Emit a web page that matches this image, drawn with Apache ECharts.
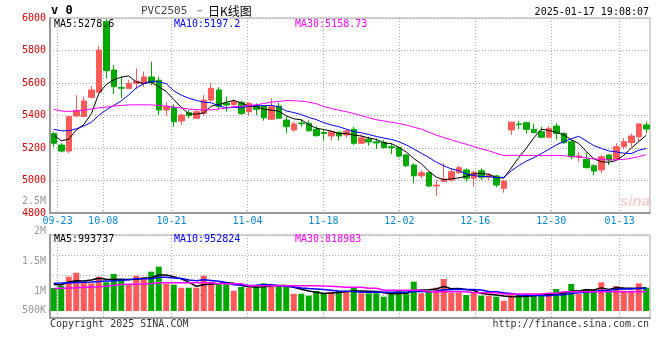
<!DOCTYPE html>
<html><head><meta charset="utf-8">
<script src="https://cdn.jsdelivr.net/npm/echarts@6/dist/echarts.min.js"></script>
<style>html,body{margin:0;padding:0;background:#fff}#c{width:660px;height:360px}</style>
</head><body><div id="c"></div>
<script>
// ---------- data ----------
const dates = ['09-20','09-23','09-24','09-25','09-26','09-27','09-30','10-08','10-09','10-10','10-11','10-14','10-15','10-16','10-17','10-18','10-21','10-22','10-23','10-24','10-25','10-28','10-29','10-30','10-31','11-01','11-04','11-05','11-06','11-07','11-08','11-11','11-12','11-13','11-14','11-15','11-18','11-19','11-20','11-21','11-22','11-25','11-26','11-27','11-28','11-29','12-02','12-03','12-04','12-05','12-06','12-09','12-10','12-11','12-12','12-13','12-16','12-17','12-18','12-19','12-20','12-23','12-24','12-25','12-26','12-27','12-30','12-31','01-02','01-03','01-06','01-07','01-08','01-09','01-10','01-13','01-14','01-15','01-16','01-17'];
const opens  = [5290,5218,5181,5397,5394,5512,5543,5977,5680,5572,5567,5598,5598,5637,5617,5434,5448,5366,5417,5383,5413,5495,5557,5475,5468,5481,5423,5458,5458,5377,5458,5372,5311,5354,5352,5315,5295,5274,5297,5280,5315,5229,5255,5238,5235,5208,5202,5157,5095,5029,5048,4966,4993,5003,5050,5065,5014,5060,5020,5028,4952,5311,5348,5356,5315,5300,5266,5335,5290,5239,5143,5131,5091,5065,5157,5132,5208,5233,5269,5342];
const closes = [5229,5181,5393,5430,5489,5557,5803,5676,5577,5568,5598,5612,5637,5604,5434,5454,5362,5403,5399,5423,5495,5567,5454,5465,5485,5413,5475,5438,5386,5454,5383,5331,5348,5350,5306,5276,5290,5300,5274,5305,5229,5263,5237,5231,5202,5202,5151,5091,5029,5048,4966,4972,5009,5054,5079,5014,5050,5020,5034,4972,4997,5360,5344,5315,5294,5266,5321,5290,5233,5146,5151,5079,5058,5146,5126,5208,5239,5274,5348,5317];
const lows   = [5208,5173,5167,5391,5390,5506,5543,5629,5532,5506,5563,5563,5577,5588,5403,5400,5331,5342,5383,5380,5400,5485,5438,5423,5454,5403,5399,5403,5368,5372,5380,5290,5300,5331,5300,5270,5245,5245,5245,5263,5218,5225,5215,5194,5199,5163,5140,5083,4983,5013,4958,4905,4993,4993,5040,4993,4962,5003,5003,4958,4925,5280,5315,5290,5294,5266,5260,5253,5225,5130,5115,5075,5034,5044,5095,5126,5192,5208,5239,5290];
const highs  = [5296,5229,5397,5526,5516,5581,5828,5995,5711,5639,5618,5690,5670,5731,5639,5483,5469,5413,5434,5440,5526,5598,5574,5516,5500,5490,5481,5475,5465,5506,5480,5393,5362,5377,5370,5335,5315,5311,5300,5315,5331,5286,5270,5260,5250,5229,5208,5163,5106,5065,5054,5003,5106,5075,5091,5075,5060,5075,5045,5034,5003,5360,5366,5362,5348,5331,5335,5352,5297,5249,5177,5171,5100,5157,5161,5229,5260,5290,5352,5362];
const ma5  = [5280,5245,5254,5311,5344,5410,5534,5591,5620,5636,5644,5606,5598,5604,5577,5548,5498,5451,5410,5408,5416,5457,5468,5481,5493,5477,5458,5455,5439,5433,5427,5398,5380,5373,5344,5322,5314,5304,5289,5289,5280,5274,5262,5253,5232,5227,5205,5175,5135,5104,5057,5021,5005,5010,5016,5026,5041,5043,5039,5018,5015,5077,5141,5198,5262,5316,5308,5297,5281,5251,5228,5180,5133,5116,5112,5123,5155,5199,5239,5279];
const ma10 = [5315,5306,5306,5318,5335,5358,5400,5435,5462,5490,5527,5570,5595,5612,5607,5596,5552,5525,5507,5493,5482,5478,5460,5446,5451,5447,5458,5461,5460,5463,5452,5428,5418,5406,5388,5375,5356,5342,5331,5316,5301,5294,5283,5271,5261,5253,5239,5219,5194,5168,5142,5113,5090,5072,5060,5041,5031,5024,5025,5017,5020,5059,5092,5119,5140,5165,5192,5219,5239,5257,5272,5244,5215,5198,5182,5176,5168,5166,5186,5197];
const ma30 = [5438,5428,5425,5428,5433,5440,5447,5452,5458,5462,5465,5466,5466,5465,5462,5458,5452,5446,5440,5436,5434,5435,5440,5447,5454,5457,5461,5466,5474,5482,5487,5492,5491,5488,5482,5473,5455,5443,5433,5424,5412,5400,5387,5374,5367,5358,5351,5341,5328,5316,5298,5279,5264,5250,5236,5223,5209,5195,5183,5167,5154,5155,5155,5154,5154,5153,5154,5154,5153,5147,5145,5139,5133,5130,5127,5127,5130,5137,5147,5159];
const volumes = [1050000,1083000,1238000,1305000,1155000,1128000,1238000,1145000,1283000,1183000,1117000,1255000,1233000,1322000,1405000,1122000,1105000,1055000,1055000,1055000,1255000,1155000,1112000,1112000,1005000,1067000,1055000,1100000,1128000,1067000,1100000,1067000,955000,955000,922000,1000000,962000,988000,1000000,1000000,1062000,962000,962000,962000,905000,972000,1000000,988000,1155000,962000,1005000,1055000,1200000,972000,972000,933000,988000,922000,922000,905000,838000,945000,933000,950000,933000,933000,933000,1033000,972000,1117000,950000,1033000,1017000,1145000,988000,1083000,1005000,1005000,1128000,1055000];
const volMa5  = [1110000,1100000,1150000,1170000,1166000,1182000,1213000,1194000,1190000,1195000,1193000,1197000,1214000,1222000,1266000,1267000,1237000,1202000,1148000,1078000,1105000,1115000,1126000,1138000,1128000,1090000,1070000,1068000,1071000,1083000,1090000,1092000,1063000,1029000,1000000,980000,959000,965000,974000,990000,1002000,1002000,997000,990000,971000,953000,960000,965000,1004000,1015000,1022000,1033000,1075000,1039000,1041000,1026000,1013000,957000,947000,934000,915000,906000,909000,914000,920000,939000,936000,956000,961000,998000,1001000,1021000,1018000,1052000,1027000,1053000,1048000,1045000,1042000,1055000];
const volMa10 = [1130000,1132000,1135000,1140000,1145000,1150000,1158000,1165000,1172000,1181000,1188000,1205000,1204000,1206000,1231000,1230000,1217000,1208000,1185000,1172000,1186000,1176000,1164000,1143000,1103000,1098000,1093000,1097000,1104000,1106000,1090000,1081000,1066000,1050000,1042000,1035000,1026000,1014000,1002000,995000,991000,981000,981000,982000,980000,978000,981000,981000,997000,993000,987000,997000,1020000,1021000,1028000,1024000,1023000,1016000,993000,987000,971000,960000,933000,931000,927000,927000,921000,933000,938000,959000,970000,979000,987000,1007000,1012000,1027000,1034000,1032000,1047000,1041000];
const volMa30 = [1040000,1045000,1050000,1055000,1062000,1068000,1072000,1080000,1095000,1110000,1112000,1112000,1115000,1125000,1138000,1138000,1138000,1138000,1138000,1138000,1138000,1138000,1122000,1122000,1122000,1122000,1088000,1088000,1088000,1088000,1088000,1088000,1088000,1088000,1088000,1088000,1083000,1080000,1072000,1062000,1062000,1062000,1045000,1045000,1012000,1012000,1012000,1012000,1012000,1012000,988000,988000,988000,988000,988000,988000,972000,972000,972000,972000,950000,950000,950000,950000,950000,950000,962000,962000,988000,988000,988000,988000,988000,988000,988000,988000,988000,988000,988000,988000];
const xTickDates = ['09-23','10-08','10-21','11-04','11-18','12-02','12-16','12-30','01-13'];
const volTickLabels = {2500000:'2.5M', 2000000:'2M', 1500000:'1.5M', 1000000:'1M', 500000:'500K'};
const maLegend = ['MA5:5278.6','MA10:5197.2','MA30:5158.73'];
const volMaLegend = ['MA5:993737','MA10:952824','MA30:818983'];
const titleCode = 'PVC2505 －';
const titleName = '日K线图';
const timeStamp = '2025-01-17 19:08:07';

// ---------- styles ----------
const UP = '#ff5a5a', DOWN = '#00a800';
const MONO = '"DejaVu Sans Mono", monospace';
const GRIDC = '#aaaaaa', AXISC = '#999999';
const dotted = {color: GRIDC, type: [1, 2], width: 1};
const tickSet = new Set(xTickDates);
const isTick = (i, v) => tickSet.has(v);

const candleData = dates.map((d, i) => [opens[i], closes[i], lows[i], highs[i]]);
const volData = volumes.map((v, i) => ({value: v, itemStyle: {color: closes[i] >= opens[i] ? UP : DOWN}}));

function txt(x, y, text, extra) {
  return {type: 'text', x: x, y: y, silent: true, z: 100,
    style: Object.assign({text: text, font: '10px ' + MONO, fill: '#000',
      textAlign: 'left', textVerticalAlign: 'middle', align: 'left', verticalAlign: 'middle'}, extra || {})};
}
function line(name, data, color, xi, yi, w) {
  return {type: 'line', name: name, data: data, xAxisIndex: xi, yAxisIndex: yi, symbol: 'none',
    lineStyle: {color: color, width: w}, itemStyle: {color: color}, z: 5, silent: true};
}

const chart = echarts.init(document.getElementById('c'), null, {renderer: 'canvas'});
chart.setOption({
  animation: false,
  backgroundColor: '#fff',
  grid: [
    {left: 50, right: 10, top: 18, height: 195, show: true, borderColor: GRIDC, borderWidth: 1},
    {left: 50, right: 10, top: 235, height: 76},
    {left: 50, right: 10, top: 235, height: 83, show: true, borderColor: GRIDC, borderWidth: 1},
    {left: 50, right: 10, top: 235, height: 60},
    {left: 50, right: 10, top: 201, height: 120}
  ],
  xAxis: [
    {type: 'category', gridIndex: 0, data: dates, boundaryGap: true, show: false},
    {type: 'category', gridIndex: 0, data: dates, boundaryGap: false, position: 'bottom',
      axisLine: {show: true, lineStyle: {color: AXISC, width: 2}}, axisTick: {show: false},
      axisLabel: {interval: isTick, color: '#0a88d8', fontSize: 10, fontFamily: MONO, margin: 3},
      splitLine: {show: true, interval: isTick, lineStyle: dotted}},
    {type: 'category', gridIndex: 1, data: dates, boundaryGap: true, show: false},
    {type: 'category', gridIndex: 2, data: dates, boundaryGap: false, position: 'bottom',
      axisLine: {show: true, lineStyle: {color: AXISC, width: 2}}, axisTick: {show: false},
      axisLabel: {show: false}, splitLine: {show: true, interval: isTick, lineStyle: dotted}},
    {type: 'category', gridIndex: 3, data: dates, show: false},
    {type: 'category', gridIndex: 4, data: dates, show: false}
  ],
  yAxis: [
    {type: 'value', gridIndex: 0, min: 4800, max: 6000, interval: 200,
      axisLine: {show: true, lineStyle: {color: AXISC, width: 2}}, axisTick: {show: false},
      axisLabel: {color: '#e00000', fontSize: 10, fontFamily: MONO, margin: 4, formatter: v => String(v)},
      splitLine: {show: true, lineStyle: dotted}},
    {type: 'value', gridIndex: 1, min: 2000000 / 3, max: 5800000 / 3, show: false},
    {type: 'value', gridIndex: 2, min: 0, max: 1,
      axisLine: {show: true, lineStyle: {color: AXISC, width: 2}}, axisTick: {show: false},
      axisLabel: {show: false}, splitLine: {show: false}},
    {type: 'value', gridIndex: 3, min: 0, max: 3, interval: 1,
      axisLine: {show: false}, axisTick: {show: false}, axisLabel: {show: false},
      splitLine: {show: true, lineStyle: dotted}},
    {type: 'value', gridIndex: 4, min: 500000, max: 2500000, interval: 500000,
      axisLine: {show: false}, axisTick: {show: false}, splitLine: {show: false},
      axisLabel: {color: '#999', fontSize: 10, fontFamily: MONO, margin: 4,
        formatter: v => v === 500000 ? '{low|' + volTickLabels[v] + '}' : volTickLabels[v],
        rich: {low: {color: '#999', fontSize: 10, fontFamily: MONO, padding: [0, 0, 22, 0]}}}}
  ],
  series: [
    {type: 'candlestick', xAxisIndex: 0, yAxisIndex: 0, data: candleData, barWidth: 6, silent: true,
      itemStyle: {color: UP, color0: DOWN, borderColor: UP, borderColor0: DOWN, borderWidth: 1}},
    line('MA5', ma5, '#000000', 0, 0, 1),
    line('MA10', ma10, '#0000ff', 0, 0, 1),
    line('MA30', ma30, '#ff00ff', 0, 0, 1),
    {type: 'bar', xAxisIndex: 2, yAxisIndex: 1, data: volData, barWidth: 6, silent: true},
    line('VMA5', volMa5, '#000000', 2, 1, 1.5),
    line('VMA10', volMa10, '#0000ff', 2, 1, 1.5),
    line('VMA30', volMa30, '#ff00ff', 2, 1, 1.5)
  ],
  graphic: [
    txt(51, 11, 'v 0', {font: 'bold 12px ' + MONO}),
    txt(141, 11, titleCode, {fill: '#444', font: '11px ' + MONO}),
    txt(208, 11, titleName, {font: '12px "Noto Sans CJK SC"', fill: '#000'}),
    txt(649, 12, timeStamp, {textAlign: 'right', align: 'right'}),
    txt(54, 24, maLegend[0], {fill: '#000'}),
    txt(174, 24, maLegend[1], {fill: '#0000ff'}),
    txt(295, 24, maLegend[2], {fill: '#ff00ff'}),
    txt(54, 239, volMaLegend[0], {fill: '#000'}),
    txt(174, 239, volMaLegend[1], {fill: '#0000ff'}),
    txt(295, 239, volMaLegend[2], {fill: '#ff00ff'}),
    txt(50, 324, 'Copyright 2025 SINA.COM', {fill: '#333'}),
    txt(649, 324, 'http://finance.sina.com.cn', {fill: '#333', textAlign: 'right', align: 'right'}),
    txt(620, 202, 'sina', {font: 'italic bold 15px "Liberation Sans"', fill: 'rgba(220,120,120,0.35)'})
  ]
});
</script></body></html>
